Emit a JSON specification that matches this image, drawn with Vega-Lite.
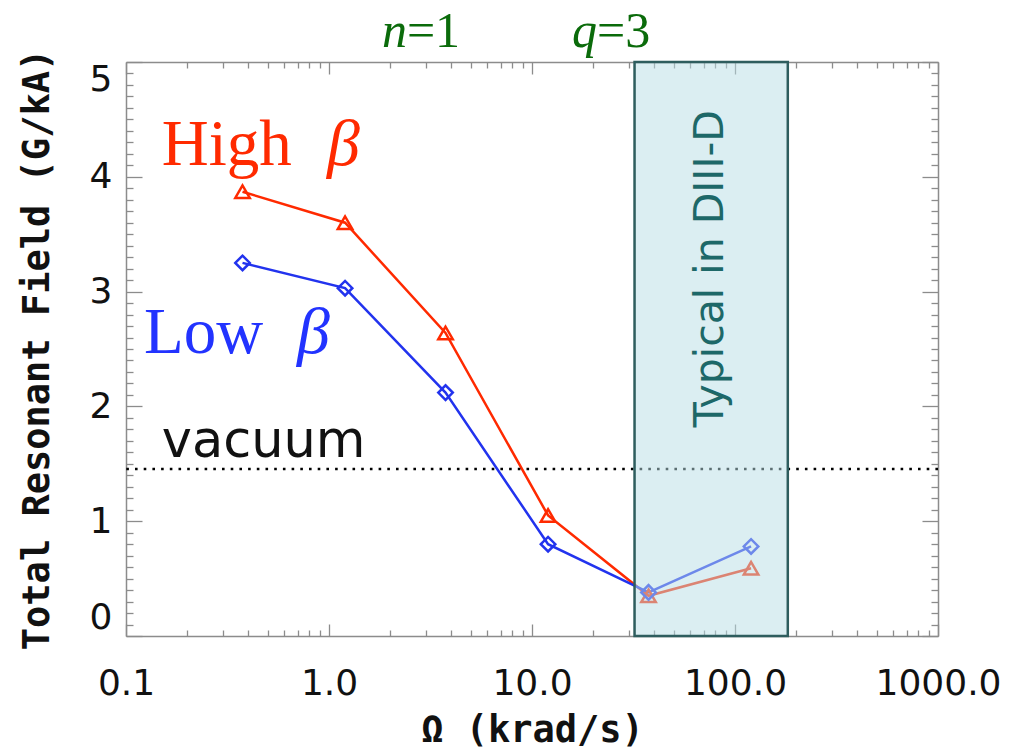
{
  "$schema": "https://vega.github.io/schema/vega-lite/v6.json",
  "width": 812,
  "height": 574,
  "autosize": {"type": "none"},
  "padding": {"left": 126, "top": 62, "right": 76, "bottom": 117},
  "background": "white",
  "config": {
    "view": {"stroke": null},
    "axis": {"grid": false, "domainColor": "#8c8c8c", "domainWidth": 1.5, "tickColor": "#8c8c8c", "tickWidth": 1.3}
  },
  "datasets": {
    "field": [
      {"omega": 0.375, "series": "High", "B": 3.87},
      {"omega": 1.2, "series": "High", "B": 3.6},
      {"omega": 3.75, "series": "High", "B": 2.64},
      {"omega": 12, "series": "High", "B": 1.05},
      {"omega": 37.5, "series": "High", "B": 0.35},
      {"omega": 120, "series": "High", "B": 0.59},
      {"omega": 0.375, "series": "Low", "B": 3.25},
      {"omega": 1.2, "series": "Low", "B": 3.03},
      {"omega": 3.75, "series": "Low", "B": 2.12},
      {"omega": 12, "series": "Low", "B": 0.8},
      {"omega": 37.5, "series": "Low", "B": 0.38},
      {"omega": 120, "series": "Low", "B": 0.78}
    ],
    "band": [{"lo": 32, "hi": 182, "label": "Typical in DIII-D"}],
    "vacuum": [{"level": 1.455, "label": "vacuum"}],
    "one": [{}]
  },
  "resolve": {"axis": {"x": "independent", "y": "independent"}},
  "layer": [
    {
      "data": {"name": "field"},
      "mark": {"type": "line", "strokeWidth": 2.5},
      "encoding": {
        "x": {
          "field": "omega", "type": "quantitative",
          "scale": {"type": "log", "domain": [0.1, 1000], "nice": false},
          "axis": {
            "orient": "bottom", "values": [0.1, 1, 10, 100, 1000],
            "labelExpr": "format(datum.value, '.1f')",
            "tickSize": -12, "labelPadding": 42, "labelFlush": false, "labelOverlap": false,
            "labelFont": "DejaVu Sans", "labelFontSize": 36, "labelColor": "#111111",
            "title": "Ω (krad/s)", "titleFont": "DejaVu Sans Mono", "titleFontSize": 37,
            "titleFontWeight": "bold", "titleColor": "#111111", "titlePadding": 11
          }
        },
        "y": {
          "field": "B", "type": "quantitative",
          "scale": {"domain": [0, 5], "nice": false, "zero": false},
          "axis": {
            "orient": "left", "values": [0, 1, 2, 3, 4, 5],
            "tickSize": -16, "labelPadding": 30, "labelFlush": true, "labelOverlap": false,
            "labelFont": "DejaVu Sans", "labelFontSize": 36, "labelColor": "#111111",
            "title": "Total Resonant Field (G/kA)", "titleFont": "DejaVu Sans Mono", "titleFontSize": 37,
            "titleFontWeight": "bold", "titleColor": "#111111", "titlePadding": 33
          }
        },
        "color": {
          "field": "series", "type": "nominal",
          "scale": {"domain": ["High", "Low"], "range": ["#ff2a00", "#2233ee"]},
          "legend": null
        }
      }
    },
    {
      "data": {"name": "field"},
      "mark": {"type": "point", "filled": false, "strokeWidth": 2.5, "size": 210, "opacity": 1},
      "encoding": {
        "x": {
          "field": "omega", "type": "quantitative",
          "scale": {"type": "log", "domain": [0.1, 1000], "nice": false},
          "axis": {
            "orient": "bottom",
            "values": [0.2, 0.3, 0.4, 0.5, 0.6, 0.7, 0.8, 0.9, 2, 3, 4, 5, 6, 7, 8, 9, 20, 30, 40, 50, 60, 70, 80, 90, 200, 300, 400, 500, 600, 700, 800, 900],
            "tickSize": -6, "labels": false, "domain": false, "title": null
          }
        },
        "y": {
          "field": "B", "type": "quantitative",
          "scale": {"domain": [0, 5], "nice": false, "zero": false},
          "axis": {
            "orient": "left",
            "values": [0.1, 0.2, 0.3, 0.4, 0.5, 0.6, 0.7, 0.8, 0.9, 1.1, 1.2, 1.3, 1.4, 1.5, 1.6, 1.7, 1.8, 1.9, 2.1, 2.2, 2.3, 2.4, 2.5, 2.6, 2.7, 2.8, 2.9, 3.1, 3.2, 3.3, 3.4, 3.5, 3.6, 3.7, 3.8, 3.9, 4.1, 4.2, 4.3, 4.4, 4.5, 4.6, 4.7, 4.8, 4.9],
            "tickSize": -7, "labels": false, "domain": false, "title": null
          }
        },
        "color": {
          "field": "series", "type": "nominal",
          "scale": {"domain": ["High", "Low"], "range": ["#ff2a00", "#2233ee"]},
          "legend": null
        },
        "shape": {
          "field": "series", "type": "nominal",
          "scale": {"domain": ["High", "Low"], "range": ["triangle-up", "diamond"]},
          "legend": null
        }
      }
    },
    {
      "data": {"name": "vacuum"},
      "mark": {"type": "rule", "color": "#000000", "strokeWidth": 2.6, "strokeDash": [2.6, 6.1]},
      "encoding": {
        "y": {"field": "level", "type": "quantitative", "axis": null}
      }
    },
    {
      "data": {"name": "band"},
      "mark": {"type": "rect", "fill": "#b8dde6", "fillOpacity": 0.5, "stroke": "#2e5d5e", "strokeWidth": 2.5},
      "encoding": {
        "x": {
          "field": "lo", "type": "quantitative",
          "scale": {"type": "log", "domain": [0.1, 1000], "nice": false},
          "axis": {"orient": "top", "values": [0.1, 1, 10, 100, 1000], "tickSize": -12, "labels": false, "title": null}
        },
        "x2": {"field": "hi"},
        "y": {
          "datum": 0,
          "scale": {"domain": [0, 5], "nice": false, "zero": false},
          "axis": {"orient": "right", "values": [0, 1, 2, 3, 4, 5], "tickSize": -16, "labels": false, "title": null}
        },
        "y2": {"datum": 5}
      }
    },
    {
      "data": {"name": "band"},
      "mark": {"type": "text", "angle": 270, "align": "center", "baseline": "middle", "font": "DejaVu Sans", "fontSize": 41, "color": "#1d6868"},
      "encoding": {
        "text": {"field": "label"},
        "x": {
          "datum": 76,
          "scale": {"type": "log", "domain": [0.1, 1000], "nice": false},
          "axis": {
            "orient": "top",
            "values": [0.2, 0.3, 0.4, 0.5, 0.6, 0.7, 0.8, 0.9, 2, 3, 4, 5, 6, 7, 8, 9, 20, 30, 40, 50, 60, 70, 80, 90, 200, 300, 400, 500, 600, 700, 800, 900],
            "tickSize": -6, "labels": false, "domain": false, "title": null
          }
        },
        "y": {
          "datum": 3.2,
          "scale": {"domain": [0, 5], "nice": false, "zero": false},
          "axis": {
            "orient": "right",
            "values": [0.1, 0.2, 0.3, 0.4, 0.5, 0.6, 0.7, 0.8, 0.9, 1.1, 1.2, 1.3, 1.4, 1.5, 1.6, 1.7, 1.8, 1.9, 2.1, 2.2, 2.3, 2.4, 2.5, 2.6, 2.7, 2.8, 2.9, 3.1, 3.2, 3.3, 3.4, 3.5, 3.6, 3.7, 3.8, 3.9, 4.1, 4.2, 4.3, 4.4, 4.5, 4.6, 4.7, 4.8, 4.9],
            "tickSize": -7, "labels": false, "domain": false, "title": null
          }
        }
      }
    },
    {
      "data": {"name": "vacuum"},
      "mark": {"type": "text", "align": "left", "baseline": "alphabetic", "font": "DejaVu Sans", "fontSize": 51, "color": "#111111"},
      "encoding": {
        "text": {"field": "label"},
        "x": {"datum": 0.15, "axis": null},
        "y": {"datum": 1.56, "axis": null}
      }
    },
    {
      "data": {"name": "one"},
      "mark": {"type": "text", "text": "High", "align": "left", "baseline": "alphabetic", "font": "Liberation Serif", "fontSize": 65, "color": "#ff2a00"},
      "encoding": {"x": {"datum": 0.15, "axis": null}, "y": {"datum": 4.103, "axis": null}}
    },
    {
      "data": {"name": "one"},
      "mark": {"type": "text", "text": "β", "align": "left", "baseline": "alphabetic", "font": "Liberation Serif", "fontStyle": "italic", "fontSize": 66, "color": "#ff2a00"},
      "encoding": {"x": {"datum": 0.977, "axis": null}, "y": {"datum": 4.103, "axis": null}}
    },
    {
      "data": {"name": "one"},
      "mark": {"type": "text", "text": "Low", "align": "left", "baseline": "alphabetic", "font": "Liberation Serif", "fontSize": 65, "color": "#2233ff"},
      "encoding": {"x": {"datum": 0.1227, "axis": null}, "y": {"datum": 2.465, "axis": null}}
    },
    {
      "data": {"name": "one"},
      "mark": {"type": "text", "text": "β", "align": "left", "baseline": "alphabetic", "font": "Liberation Serif", "fontStyle": "italic", "fontSize": 66, "color": "#2233ff"},
      "encoding": {"x": {"datum": 0.695, "axis": null}, "y": {"datum": 2.465, "axis": null}}
    },
    {
      "data": {"name": "one"},
      "mark": {"type": "text", "text": "n", "align": "right", "baseline": "alphabetic", "font": "Liberation Serif", "fontStyle": "italic", "fontSize": 50, "color": "#0b6b0b"},
      "encoding": {"x": {"datum": 2.42, "axis": null}, "y": {"datum": 5.131, "axis": null}}
    },
    {
      "data": {"name": "one"},
      "mark": {"type": "text", "text": "=1", "align": "left", "baseline": "alphabetic", "font": "Liberation Serif", "fontSize": 50, "color": "#0b6b0b"},
      "encoding": {"x": {"datum": 2.42, "axis": null}, "y": {"datum": 5.131, "axis": null}}
    },
    {
      "data": {"name": "one"},
      "mark": {"type": "text", "text": "q", "align": "right", "baseline": "alphabetic", "font": "Liberation Serif", "fontStyle": "italic", "fontSize": 50, "color": "#0b6b0b"},
      "encoding": {"x": {"datum": 20.9, "axis": null}, "y": {"datum": 5.131, "axis": null}}
    },
    {
      "data": {"name": "one"},
      "mark": {"type": "text", "text": "=3", "align": "left", "baseline": "alphabetic", "font": "Liberation Serif", "fontSize": 50, "color": "#0b6b0b"},
      "encoding": {"x": {"datum": 20.9, "axis": null}, "y": {"datum": 5.131, "axis": null}}
    }
  ]
}
